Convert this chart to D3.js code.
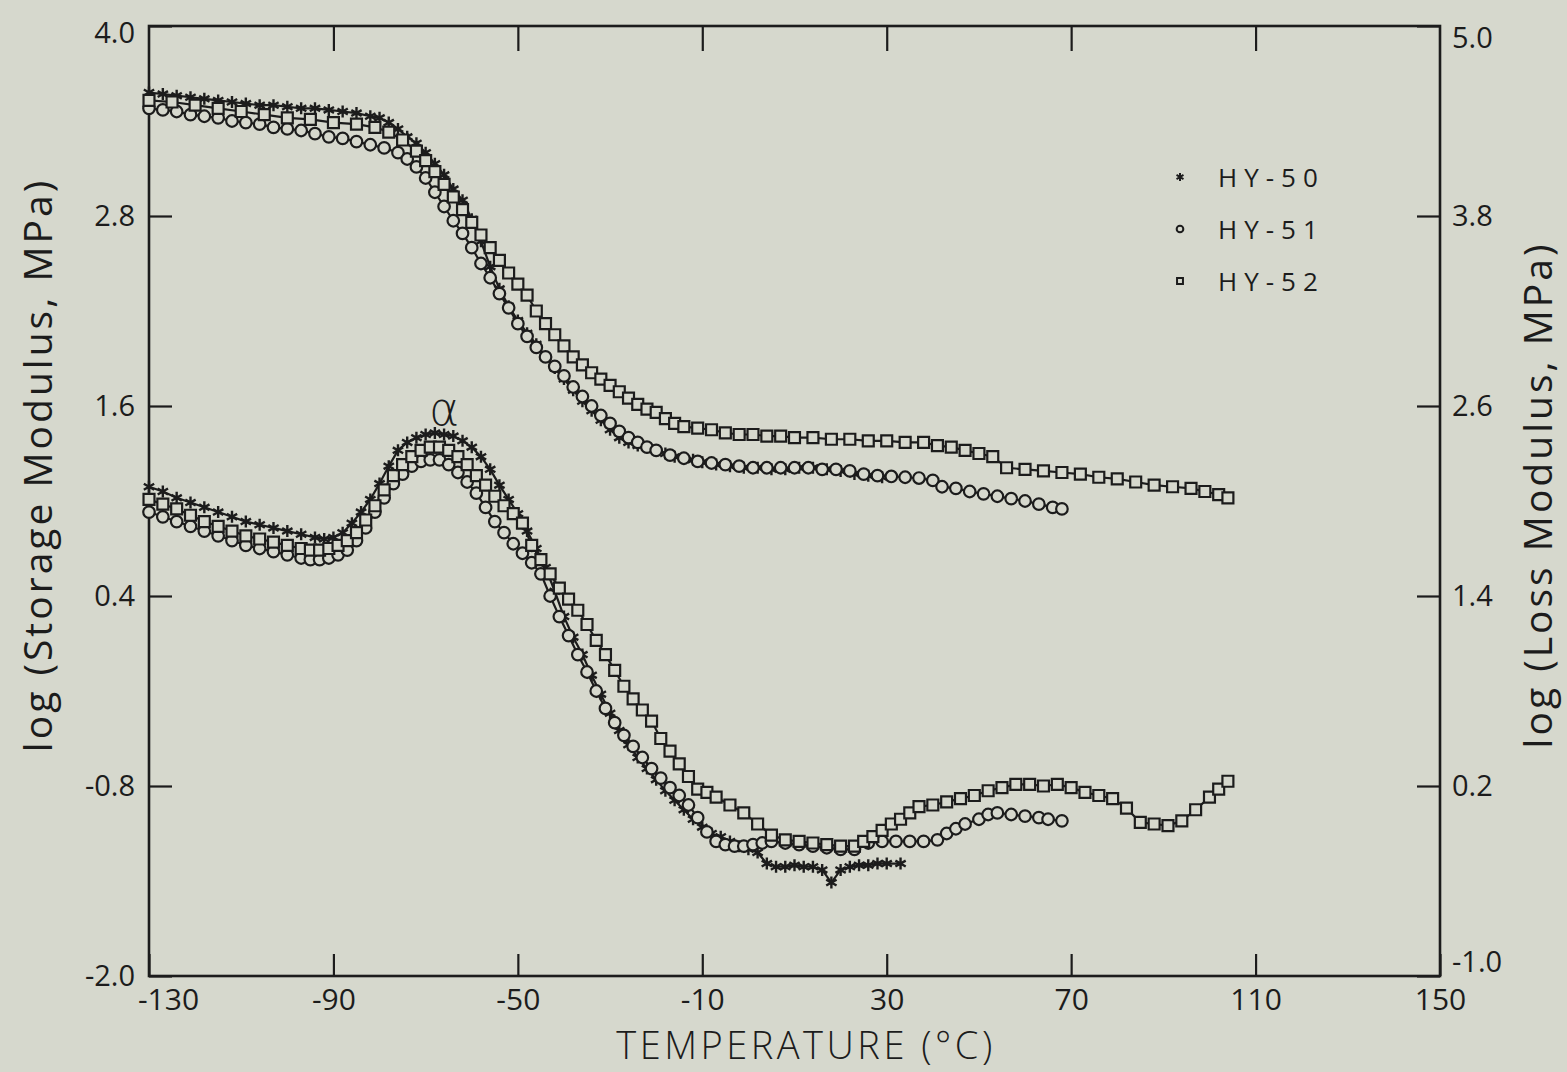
<!DOCTYPE html>
<html>
<head>
<meta charset="utf-8">
<script src="https://cdn.jsdelivr.net/npm/d3@7"></script>
<style>
  html, body { margin: 0; padding: 0; background: #d6d8cd; }
  svg { display: block; }
  text { font-family: "Open Sans", "DejaVu Sans", sans-serif; fill: #1c1c1c; }
</style>
</head>
<body>
<svg id="chart" width="1567" height="1072"></svg>
<script>
// ---- series and axis data ----
const seriesNames = ["HY-50", "HY-51", "HY-52"];

const xTicks = [-130, -90, -50, -10, 30, 70, 110, 150];
const xTickLabels = ["-130", "-90", "-50", "-10", "30", "70", "110", "150"];
const leftTicks = [4.0, 2.8, 1.6, 0.4, -0.8, -2.0];
const leftTickLabels = ["4.0", "2.8", "1.6", "0.4", "-0.8", "-2.0"];
const rightTicks = [5.0, 3.8, 2.6, 1.4, 0.2, -1.0];
const rightTickLabels = ["5.0", "3.8", "2.6", "1.4", "0.2", "-1.0"];

// log storage modulus (left axis): [temperature °C, value]
const storageHY50 = [
  [-130,3.58],[-127,3.57],[-124,3.56],[-121,3.55],[-118,3.54],[-115,3.53],[-112,3.52],[-109,3.51],
  [-106,3.50],[-103,3.50],[-100,3.49],[-97,3.48],[-94,3.48],[-91,3.47],[-88,3.46],[-85,3.45],
  [-82,3.43],[-80,3.42],[-78,3.39],[-76,3.35],[-74,3.30],[-72,3.26],[-70,3.20],[-68,3.13],
  [-66,3.06],[-64,2.97],[-62,2.90],[-60,2.78],[-58,2.64],[-56,2.48],[-54,2.34],[-52,2.23],
  [-50,2.14],[-48,2.06],[-46,1.99],[-44,1.91],[-42,1.84],[-40,1.77],[-38,1.70],[-36,1.63],
  [-34,1.57],[-32,1.51],[-30,1.45],[-28,1.40],[-26,1.37],[-24,1.35],[-22,1.34],[-20,1.32],
  [-18,1.30],[-16,1.28],[-14,1.27],[-12,1.26],[-10,1.245],[-7,1.23],[-4,1.22],[-1,1.21],
  [2,1.21],[5,1.20],[8,1.20],[11,1.21],[14,1.21],[17,1.20],[20,1.19],[23,1.17],[26,1.16],[29,1.15]
];
const storageHY51 = [
  [-130,3.48],[-127,3.47],[-124,3.46],[-121,3.44],[-118,3.43],[-115,3.42],[-112,3.40],[-109,3.39],
  [-106,3.38],[-103,3.36],[-100,3.35],[-97,3.34],[-94,3.32],[-91,3.30],[-88,3.29],[-85,3.27],
  [-82,3.25],[-79,3.23],[-76,3.20],[-74,3.16],[-72,3.11],[-70,3.04],[-68,2.95],[-66,2.86],
  [-64,2.77],[-62,2.69],[-60,2.60],[-58,2.50],[-56,2.41],[-54,2.31],[-52,2.22],[-50,2.12],
  [-48,2.04],[-46,1.97],[-44,1.91],[-42,1.85],[-40,1.79],[-38,1.72],[-36,1.66],[-34,1.60],
  [-32,1.54],[-30,1.49],[-28,1.44],[-26,1.40],[-24,1.37],[-22,1.34],[-20,1.32],[-17,1.29],
  [-14,1.27],[-11,1.25],[-8,1.24],[-5,1.23],[-2,1.22],[1,1.21],[4,1.21],[7,1.21],[10,1.21],
  [13,1.21],[16,1.20],[19,1.20],[22,1.19],[25,1.17],[28,1.16],[31,1.155],[34,1.15],[37,1.145],
  [40,1.13],[42,1.09],[45,1.08],[48,1.06],[51,1.045],[54,1.03],[57,1.015],[60,1.00],[63,0.98],
  [66,0.96],[68,0.95]
];
const storageHY52 = [
  [-130,3.53],[-125,3.52],[-120,3.50],[-115,3.48],[-110,3.46],[-105,3.44],[-100,3.42],[-95,3.41],
  [-90,3.39],[-85,3.38],[-81,3.36],[-78,3.33],[-75,3.28],[-72,3.21],[-70,3.15],[-68,3.08],
  [-66,3.00],[-64,2.92],[-62,2.84],[-60,2.76],[-58,2.68],[-56,2.60],[-54,2.52],[-52,2.44],
  [-50,2.37],[-48,2.30],[-46,2.20],[-44,2.12],[-42,2.05],[-40,1.98],[-38,1.91],[-36,1.86],
  [-34,1.81],[-32,1.77],[-30,1.73],[-28,1.69],[-26,1.65],[-24,1.61],[-22,1.58],[-20,1.56],
  [-18,1.52],[-16,1.49],[-14,1.47],[-11,1.46],[-8,1.45],[-5,1.43],[-2,1.42],[1,1.42],[4,1.41],
  [7,1.41],[10,1.40],[14,1.40],[18,1.39],[22,1.39],[26,1.38],[30,1.38],[34,1.37],[38,1.37],
  [41,1.35],[44,1.34],[47,1.32],[50,1.30],[53,1.28],[56,1.21],[60,1.20],[64,1.19],[68,1.18],
  [72,1.17],[76,1.15],[80,1.14],[84,1.12],[88,1.10],[92,1.09],[96,1.08],[99,1.06],[102,1.04],[104,1.02]
];

// log loss modulus (right axis): [temperature °C, value]
const lossHY50 = [
  [-130,2.09],[-127,2.06],[-124,2.02],[-121,1.99],[-118,1.96],[-115,1.93],[-112,1.90],[-109,1.87],
  [-106,1.85],[-103,1.83],[-100,1.81],[-97,1.79],[-94,1.77],[-92,1.76],[-90,1.77],[-88,1.80],
  [-86,1.86],[-84,1.93],[-82,2.01],[-80,2.11],[-78,2.22],[-76,2.32],[-74,2.37],[-72,2.40],
  [-70,2.42],[-68,2.43],[-66,2.42],[-64,2.41],[-62,2.38],[-60,2.34],[-58,2.28],[-56,2.20],
  [-54,2.10],[-52,2.01],[-50,1.92],[-48,1.81],[-46,1.70],[-44,1.58],[-42,1.43],[-40,1.27],
  [-38,1.14],[-36,1.03],[-34,0.90],[-32,0.78],[-30,0.66],[-28,0.55],[-26,0.46],[-24,0.38],
  [-22,0.31],[-20,0.24],[-18,0.17],[-16,0.11],[-14,0.05],[-12,-0.01],[-10,-0.06],[-8,-0.10],
  [-6,-0.12],[-4,-0.15],[-2,-0.18],[0,-0.20],[2,-0.22],[4,-0.29],[6,-0.31],[8,-0.31],[10,-0.30],
  [12,-0.31],[14,-0.31],[16,-0.33],[18,-0.41],[20,-0.33],[22,-0.31],[24,-0.30],[26,-0.30],
  [28,-0.29],[30,-0.29],[33,-0.29]
];
const lossHY51 = [
  [-130,1.93],[-127,1.90],[-124,1.87],[-121,1.84],[-118,1.81],[-115,1.78],[-112,1.75],[-109,1.72],
  [-106,1.70],[-103,1.68],[-100,1.66],[-97,1.64],[-95,1.63],[-93,1.63],[-91,1.64],[-89,1.66],
  [-87,1.69],[-85,1.75],[-83,1.83],[-81,1.93],[-79,2.02],[-77,2.11],[-75,2.17],[-73,2.22],
  [-71,2.25],[-69,2.26],[-67,2.26],[-65,2.23],[-63,2.18],[-61,2.12],[-59,2.05],[-57,1.96],
  [-55,1.87],[-53,1.80],[-51,1.73],[-49,1.67],[-47,1.61],[-45,1.54],[-43,1.40],[-41,1.27],
  [-39,1.15],[-37,1.03],[-35,0.92],[-33,0.80],[-31,0.69],[-29,0.60],[-27,0.52],[-25,0.45],
  [-23,0.38],[-21,0.31],[-19,0.25],[-17,0.19],[-15,0.14],[-13,0.08],[-11,0.00],[-9,-0.09],
  [-7,-0.15],[-5,-0.17],[-3,-0.18],[-1,-0.18],[1,-0.17],[3,-0.16],[5,-0.15],[8,-0.16],
  [11,-0.17],[14,-0.18],[17,-0.19],[20,-0.20],[23,-0.20],[26,-0.16],[29,-0.15],[32,-0.15],
  [35,-0.15],[38,-0.15],[41,-0.14],[43,-0.10],[45,-0.07],[47,-0.04],[50,-0.01],[52,0.02],
  [54,0.03],[57,0.02],[60,0.01],[63,0.00],[65,-0.01],[68,-0.02]
];
const lossHY52 = [
  [-130,2.01],[-127,1.98],[-124,1.95],[-121,1.91],[-118,1.87],[-115,1.84],[-112,1.81],[-109,1.78],
  [-106,1.76],[-103,1.74],[-100,1.72],[-97,1.70],[-95,1.69],[-93,1.69],[-91,1.70],[-89,1.72],
  [-87,1.75],[-85,1.80],[-83,1.88],[-81,1.97],[-79,2.07],[-77,2.16],[-75,2.23],[-73,2.28],
  [-71,2.32],[-69,2.34],[-67,2.34],[-65,2.32],[-63,2.28],[-61,2.23],[-59,2.16],[-57,2.10],
  [-55,2.03],[-53,1.97],[-51,1.92],[-49,1.86],[-47,1.72],[-45,1.63],[-43,1.54],[-41,1.45],
  [-39,1.38],[-37,1.31],[-35,1.22],[-33,1.12],[-31,1.03],[-29,0.93],[-27,0.83],[-25,0.75],
  [-23,0.68],[-21,0.61],[-19,0.50],[-17,0.42],[-15,0.34],[-13,0.26],[-11,0.18],[-9,0.16],
  [-7,0.13],[-4,0.08],[-1,0.03],[2,-0.04],[5,-0.11],[8,-0.14],[11,-0.15],[14,-0.16],[17,-0.17],
  [20,-0.18],[23,-0.18],[25,-0.15],[27,-0.12],[29,-0.08],[31,-0.04],[33,-0.01],[35,0.03],
  [37,0.07],[40,0.08],[43,0.10],[46,0.12],[49,0.14],[52,0.17],[55,0.19],[58,0.21],[61,0.21],
  [64,0.20],[67,0.21],[70,0.19],[73,0.16],[76,0.14],[79,0.12],[82,0.06],[85,-0.03],[88,-0.04],
  [91,-0.05],[94,-0.02],[97,0.05],[100,0.13],[102,0.18],[104,0.23]
];

// ---- layout ----
const svg = d3.select("#chart");
const bg = "#d6d8cd";
const ink = "#1c1c1c";
const plot = { left: 149, right: 1440, top: 26, bottom: 976 };

const x = d3.scaleLinear().domain([-130, 150]).range([plot.left, plot.right]);
const yLeft = d3.scaleLinear().domain([-2, 4]).range([plot.bottom, plot.top]);
const yRight = d3.scaleLinear().domain([-1, 5]).range([plot.bottom, plot.top]);

svg.append("rect").attr("width", 1567).attr("height", 1072).attr("fill", bg);

// axes with inward ticks
function styleAxis(g, fontSize) {
  g.select(".domain").remove();
  g.selectAll(".tick line").attr("stroke", ink).attr("stroke-width", 2.2);
  g.selectAll(".tick text").attr("fill", ink).style("font-size", fontSize + "px");
}

const gBottom = svg.append("g").attr("transform", `translate(0,${plot.bottom})`)
  .call(d3.axisBottom(x).tickValues(xTicks).tickSize(-22).tickPadding(13)
    .tickFormat((d, i) => xTickLabels[i]));
styleAxis(gBottom, 30);
gBottom.selectAll(".tick text").filter((d, i) => i === 0).attr("dx", 19);

const gTop = svg.append("g").attr("transform", `translate(0,${plot.top})`)
  .call(d3.axisTop(x).tickValues(xTicks.slice(1, -1)).tickSize(-25).tickFormat(""));
styleAxis(gTop, 30);

const gLeft = svg.append("g").attr("transform", `translate(${plot.left},0)`)
  .call(d3.axisLeft(yLeft).tickValues(leftTicks).tickSize(-23).tickPadding(14)
    .tickFormat((d, i) => leftTickLabels[i]));
styleAxis(gLeft, 29);
gLeft.selectAll(".tick text").filter((d, i) => i === 0).attr("y", 7);

const gRight = svg.append("g").attr("transform", `translate(${plot.right},0)`)
  .call(d3.axisRight(yRight).tickValues(rightTicks).tickSize(-23).tickPadding(12)
    .tickFormat((d, i) => rightTickLabels[i]));
styleAxis(gRight, 29);
gRight.selectAll(".tick text").filter((d, i) => i === 0).attr("y", 12);
gRight.selectAll(".tick text").filter((d, i) => i === rightTicks.length - 1).attr("y", -14);

// frame
svg.append("rect")
  .attr("x", plot.left).attr("y", plot.top)
  .attr("width", plot.right - plot.left).attr("height", plot.bottom - plot.top)
  .attr("fill", "none").attr("stroke", ink).attr("stroke-width", 2.6);

// axis titles
svg.append("text")
  .attr("transform", `translate(36,465) rotate(-90)`)
  .attr("text-anchor", "middle").attr("dominant-baseline", "central")
  .style("font-size", "39px").style("letter-spacing", "3px")
  .text("log (Storage Modulus, MPa)");

svg.append("text")
  .attr("transform", `translate(1536,495) rotate(-90)`)
  .attr("text-anchor", "middle").attr("dominant-baseline", "central")
  .style("font-size", "39px").style("letter-spacing", "3px")
  .text("log (Loss Modulus, MPa)");

svg.append("text")
  .attr("x", 806).attr("y", 1059)
  .attr("text-anchor", "middle")
  .style("font-size", "38px").style("font-weight", 300).style("letter-spacing", "3.5px")
  .text("TEMPERATURE (°C)");

// ---- curves ----
const symbols = [d3.symbolAsterisk, d3.symbolCircle, d3.symbolSquare];
const symbolSizes = [100, 105, 120];

const curves = [
  { data: storageHY50, y: yLeft, s: 0 },
  { data: storageHY51, y: yLeft, s: 1 },
  { data: storageHY52, y: yLeft, s: 2 },
  { data: lossHY50, y: yRight, s: 0 },
  { data: lossHY51, y: yRight, s: 1 },
  { data: lossHY52, y: yRight, s: 2 }
];

const gCurves = svg.append("g");
curves.forEach(c => {
  const line = d3.line().x(d => x(d[0])).y(d => c.y(d[1]));
  gCurves.append("path")
    .datum(c.data)
    .attr("d", line)
    .attr("fill", "none").attr("stroke", ink).attr("stroke-width", 2.2);
});
curves.forEach(c => {
  const sym = d3.symbol().type(symbols[c.s]).size(symbolSizes[c.s]);
  gCurves.append("g").selectAll("path")
    .data(c.data)
    .join("path")
    .attr("transform", d => `translate(${x(d[0])},${c.y(d[1])})`)
    .attr("d", sym)
    .attr("fill", c.s === 0 ? "none" : bg)
    .attr("stroke", ink).attr("stroke-width", c.s === 0 ? 2.4 : 2.2);
});

// peak label
svg.append("text")
  .attr("x", x(-66)).attr("y", yRight(2.48))
  .attr("text-anchor", "middle")
  .style("font-family", "'DejaVu Sans', sans-serif")
  .style("font-size", "46px").style("font-weight", 300)
  .text("α");

// ---- legend ----
const legend = svg.append("g").attr("transform", "translate(1180,177)");
seriesNames.forEach((name, i) => {
  const row = legend.append("g").attr("transform", `translate(0,${i * 52})`);
  row.append("path")
    .attr("d", d3.symbol().type(symbols[i]).size(i === 0 ? 45 : 35))
    .attr("fill", i === 0 ? "none" : bg).attr("stroke", ink).attr("stroke-width", 2);
  row.append("text")
    .attr("x", 38).attr("dominant-baseline", "central")
    .style("font-size", "26px").style("letter-spacing", "7px")
    .text(name);
});
</script>
</body>
</html>
